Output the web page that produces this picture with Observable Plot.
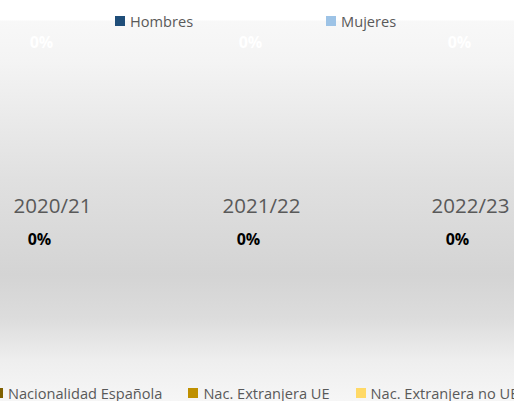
<!DOCTYPE html>
<html>
<head>
<meta charset="utf-8">
<script src="https://cdn.jsdelivr.net/npm/d3@7"></script>
<script src="https://cdn.jsdelivr.net/npm/@observablehq/plot@0.6"></script>
<style>
  html, body { margin: 0; padding: 0; background: #ffffff; }
  #chart {
    position: relative; width: 514px; height: 401px; overflow: hidden;
    font-family: "Open Sans", sans-serif;
    background: linear-gradient(to bottom,
      #ffffff 0px, #ffffff 20px, #f8f8f8 21px, #f4f4f4 60px,
      #e0e0e0 180px, #d4d4d4 275px, #dcdcdc 318px, #eeeeee 360px, #f6f6f6 401px);
  }
  #chart svg { position: absolute; left: 0; top: 0; }
  .legend { position: absolute; display: flex; white-space: nowrap; color: #595959; font-size: 14.6px; }
  .legend .item { display: flex; align-items: center; }
  .legend .sw { width: 10px; height: 10px; margin-right: 5px; flex: none; }
  #legTop { top: 11px; left: 115px; gap: 133px; }
  #legBottom { top: 383px; left: -7px; gap: 26px; }
</style>
</head>
<body>
<div id="chart">
  <div id="legTop" class="legend"></div>
  <div id="legBottom" class="legend"></div>
</div>
<script>
// ---- data ----
const categories = ["2020/21", "2021/22", "2022/23"];
const hombres = [0, 0, 0];
const mujeres = [0, 0, 0];
const nacEspanola = [0, 0, 0];
const nacExtranjeraUE = [0, 0, 0];
const nacExtranjeraNoUE = [0, 0, 0];
const sexSeries = ["Hombres", "Mujeres"];
const nationalitySeries = ["Nacionalidad Española", "Nac. Extranjera UE", "Nac. Extranjera no UE"];

// ---- styles ----
const sexColors = ["#1F4E79", "#9DC3E6"];
const natColors = ["#7F6000", "#BF9000", "#FFD966"];

const pct = d3.format(".0%");
const sexRows = categories.map((c, i) => ({cat: c, value: hombres[i]}));
const natRows = categories.map((c, i) => ({cat: c, value: nacEspanola[i]}));

const chart = Plot.plot({
  width: 514,
  height: 401,
  margin: 0,
  style: {background: "transparent", fontFamily: "Open Sans, sans-serif"},
  x: {type: "point", domain: categories, range: [47, 465], padding: 0, axis: null},
  marks: [
    Plot.text(sexRows, {x: "cat", text: d => pct(d.value), frameAnchor: "top", lineAnchor: "middle",
      dy: 42, dx: -6, fill: "#ffffff", fontWeight: "bold", fontSize: 16}),
    Plot.text(categories, {x: d => d, text: d => d, frameAnchor: "top", lineAnchor: "middle",
      dy: 206, dx: 5, fill: "#595959", fontSize: 20.5}),
    Plot.text(natRows, {x: "cat", text: d => pct(d.value), frameAnchor: "top", lineAnchor: "middle",
      dy: 239, dx: -8, fill: "#000000", fontWeight: "bold", fontSize: 16})
  ]
});
document.getElementById("chart").appendChild(chart);

function buildLegend(id, names, colors) {
  const el = document.getElementById(id);
  names.forEach((n, i) => {
    const item = document.createElement("div");
    item.className = "item";
    const sw = document.createElement("span");
    sw.className = "sw";
    sw.style.background = colors[i];
    const t = document.createElement("span");
    t.textContent = n;
    item.appendChild(sw);
    item.appendChild(t);
    el.appendChild(item);
  });
}
buildLegend("legTop", sexSeries, sexColors);
buildLegend("legBottom", nationalitySeries, natColors);
</script>
</body>
</html>
